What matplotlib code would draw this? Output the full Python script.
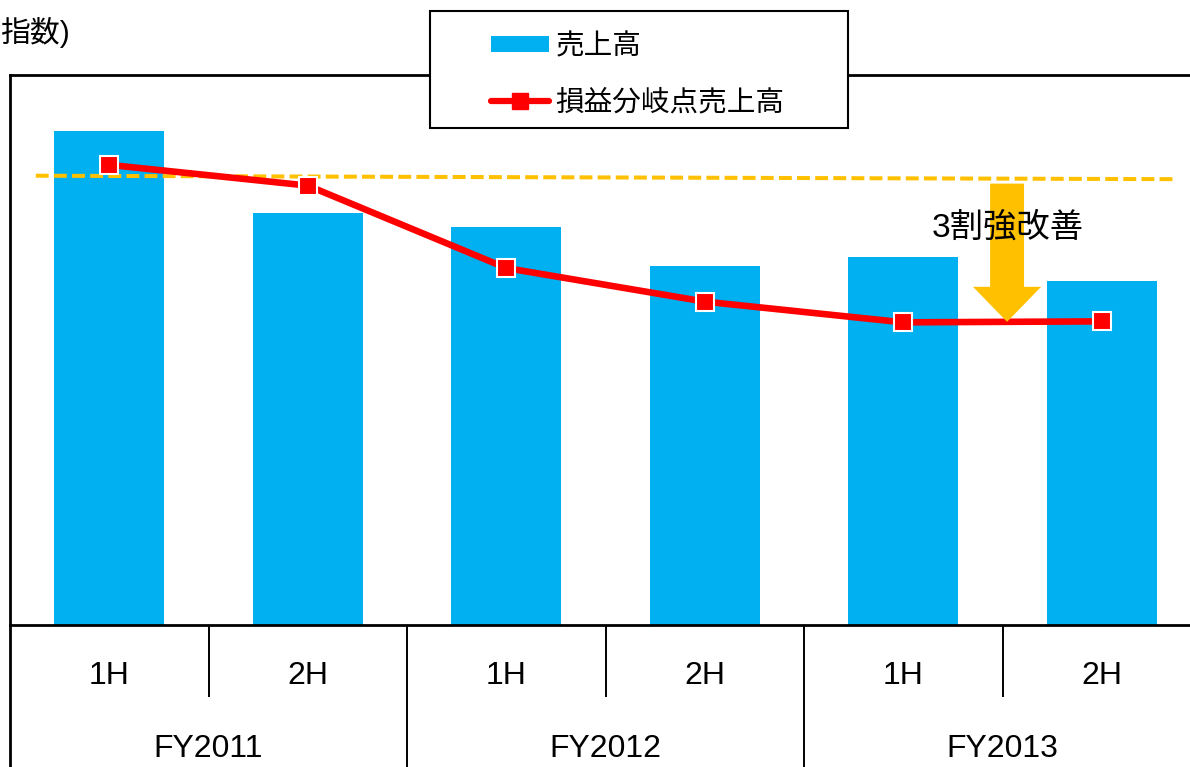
import matplotlib
matplotlib.use("Agg")
import matplotlib.pyplot as plt
from matplotlib.patches import Rectangle, Patch
from matplotlib.lines import Line2D
from matplotlib.transforms import blended_transform_factory

plt.rcParams['font.family'] = ['Liberation Sans', 'Noto Sans CJK JP', 'DejaVu Sans']

# ---- data (index, FY2011 1H sales = 100) ----
half_labels = ["1H", "2H", "1H", "2H", "1H", "2H"]
year_labels = ["FY2011", "FY2012", "FY2013"]
sales = [100.0, 83.4, 80.7, 72.7, 74.5, 69.6]
breakeven = [93.2, 89.0, 72.3, 65.5, 61.3, 61.5]
ref_x = [-0.37, 5.38]
ref_y = [91.0, 90.3]
arrow_x = 4.523
arrow_top = 89.4
arrow_tip = 61.4
note_text = "3割強改善"
note_y = 80.4
label_sales = "売上高"
label_be = "損益分岐点売上高"
unit_text = "指数)"

BLUE = "#00B0F0"
RED = "#FF0000"
ORANGE = "#FFC000"

W, H = 1190, 767
fig = plt.figure(figsize=(W / 100, H / 100), dpi=100)
ax = fig.add_axes([10 / W, (H - 625) / H, 1191 / W, 550 / H])

x = list(range(len(sales)))
ax.bar(x, sales, width=0.554, color=BLUE, zorder=1)
ax.plot(ref_x, ref_y, color=ORANGE, lw=2.9, linestyle=(0, (3.2, 1.3)), zorder=3)
ax.plot(x, breakeven, color=RED, lw=4.75, marker='s', markersize=12.5,
        markerfacecolor=RED, markeredgecolor='white', markeredgewidth=1.5, zorder=4)

ax.arrow(arrow_x, arrow_top, 0, arrow_tip - arrow_top, width=0.171, head_width=0.343,
         head_length=7.1, length_includes_head=True, color=ORANGE, lw=0, zorder=5)
ax.text(arrow_x + 0.005, note_y, note_text, ha='center', va='center', fontsize=24,
        color='black', zorder=6)

ax.set_xlim(-0.5, 5.5)
ax.set_ylim(0, 111.4)
ax.set_yticks([])
for s in ['left', 'top', 'bottom']:
    ax.spines[s].set_linewidth(2)
    ax.spines[s].set_color('black')
ax.spines['right'].set_visible(False)

ax.set_xticks(x)
ax.set_xticklabels(half_labels, fontsize=23)
ax.tick_params(axis='x', length=0, pad=36.5)
for t in ax.get_xticklabels():
    t.set_va('center')

trans = blended_transform_factory(ax.transData, ax.transAxes)
for i, yl in enumerate(year_labels):
    ax.text(2 * i + 0.5, -0.225, yl, transform=trans, ha='center', va='center',
            fontsize=23, clip_on=False)
# category dividers
for b in [-0.5, 0.5, 1.5, 2.5, 3.5, 4.5]:
    full = (b + 0.5) % 2 == 0
    ax.plot([b, b], [0, -0.27 if full else -0.131], transform=trans, color='black',
            lw=1.4 if b != -0.5 else 2, clip_on=False, solid_capstyle='butt')

fig.text(0, 1 - 33 / H, unit_text, ha='left', va='center', fontsize=21.5)

# legend box
box = Rectangle((430 / W, 1 - 128 / H), 418 / W, 117 / H, transform=fig.transFigure,
                facecolor='white', edgecolor='black', lw=1.5, zorder=4)
fig.patches.append(box)
handles = [Patch(facecolor=BLUE, edgecolor='none'),
           Line2D([0], [0], color=RED, lw=4.5, marker='s', markersize=11,
                  markerfacecolor=RED, markeredgecolor=RED, solid_capstyle='round')]
leg = fig.legend(handles, [label_sales, label_be], loc='upper left',
                 bbox_to_anchor=(477 / W, 1 - 17 / H), frameon=False, borderpad=0,
                 handlelength=2.0, handleheight=0.45, handletextpad=0.25,
                 labelspacing=0.9, prop={'family': 'Noto Sans CJK JP', 'size': 20.6})
leg.set_zorder(5)

fig.savefig("out.png", dpi=100)
